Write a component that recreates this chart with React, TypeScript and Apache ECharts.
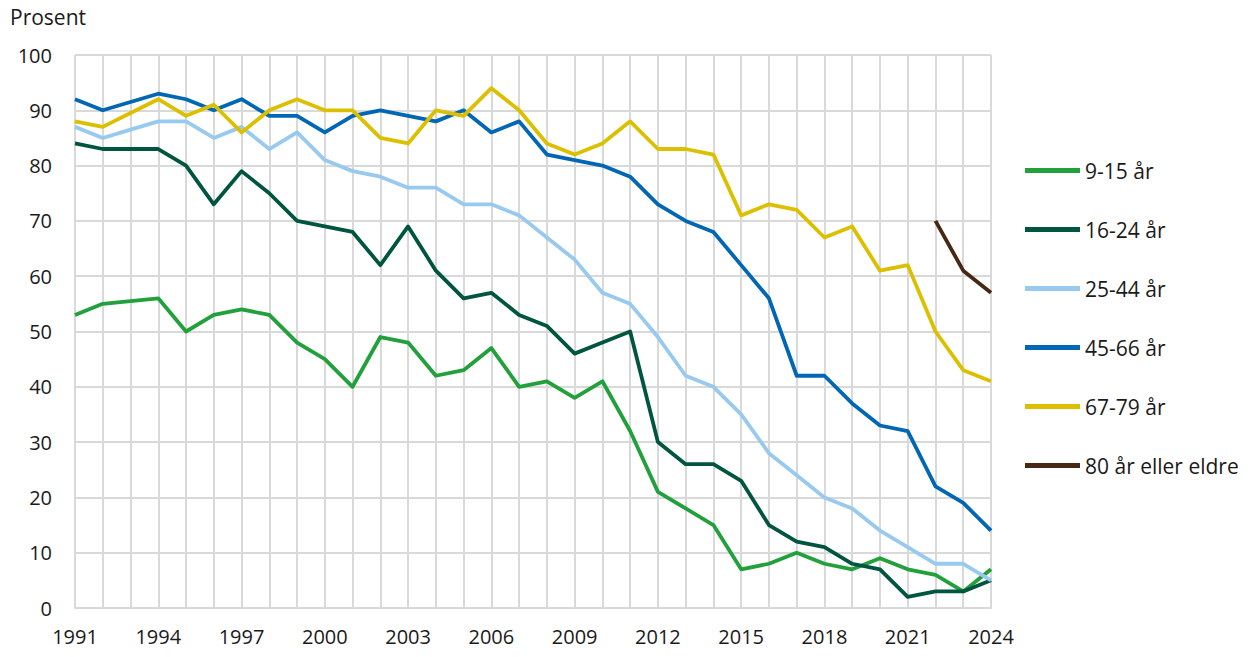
import React, { useEffect, useRef } from "react";
import * as echarts from "echarts";

const years = [
  "1991","1992","1993","1994","1995","1996","1997","1998","1999","2000",
  "2001","2002","2003","2004","2005","2006","2007","2008","2009","2010",
  "2011","2012","2013","2014","2015","2016","2017","2018","2019","2020",
  "2021","2022","2023","2024",
];

const age9to15 = [53,55,55.5,56,50,53,54,53,48,45,40,49,48,42,43,47,40,41,38,41,32,21,18,15,7,8,10,8,7,9,7,6,3,7];
const age16to24 = [84,83,83,83,80,73,79,75,70,69,68,62,69,61,56,57,53,51,46,48,50,30,26,26,23,15,12,11,8,7,2,3,3,5];
const age25to44 = [87,85,86.5,88,88,85,87,83,86,81,79,78,76,76,73,73,71,67,63,57,55,49,42,40,35,28,24,20,18,14,11,8,8,5];
const age45to66 = [92,90,91.5,93,92,90,92,89,89,86,89,90,89,88,90,86,88,82,81,80,78,73,70,68,62,56,42,42,37,33,32,22,19,14];
const age67to79 = [88,87,89.5,92,89,91,86,90,92,90,90,85,84,90,89,94,90,84,82,84,88,83,83,82,71,73,72,67,69,61,62,50,43,41];
const age80plus = [null,null,null,null,null,null,null,null,null,null,null,null,null,null,null,null,null,null,null,null,null,null,null,null,null,null,null,null,null,null,null,70,61,57];

const seriesNames = ["9-15 år","16-24 år","25-44 år","45-66 år","67-79 år","80 år eller eldre"];
const seriesColors = ["#22a03c","#005540","#98c9ee","#0067b4","#dcc000","#472814"];
const seriesData = [age9to15, age16to24, age25to44, age45to66, age67to79, age80plus];

const FONT = "'Open Sans', 'Noto Sans', sans-serif";
const TEXT = "#1a1a1a";
const GRID = "#d9d9d9";

export default function App() {
  const ref = useRef<HTMLDivElement>(null);
  useEffect(() => {
    document.body.style.margin = "0";
    if (!ref.current) return;
    const chart = echarts.init(ref.current, null, { renderer: "svg" });
    chart.setOption({
      animation: false,
      backgroundColor: "#ffffff",
      textStyle: { fontFamily: FONT },
      grid: { left: 75, right: 259, top: 55, bottom: 49, containLabel: false },
      graphic: [
        {
          type: "text",
          left: 10,
          top: 6,
          style: { text: "Prosent", fill: TEXT, font: `21px ${FONT}` },
        },
      ],
      legend: {
        orient: "vertical",
        left: 1020,
        top: 155,
        itemWidth: 55,
        itemHeight: 5,
        itemGap: 38,
        icon: "rect",
        textStyle: { fontSize: 21, color: TEXT, fontFamily: FONT },
        data: seriesNames,
      },
      xAxis: {
        type: "category",
        boundaryGap: false,
        data: years,
        axisLine: { show: true, lineStyle: { color: GRID, width: 2 } },
        axisTick: { show: false },
        axisLabel: {
          interval: 2,
          fontSize: 20,
          color: TEXT,
          fontFamily: FONT,
          margin: 18,
        },
        splitLine: { show: true, interval: 0, lineStyle: { color: GRID, width: 2 } },
      },
      yAxis: {
        type: "value",
        min: 0,
        max: 100,
        interval: 10,
        axisLine: { show: false },
        axisTick: { show: false },
        axisLabel: { fontSize: 20, color: TEXT, fontFamily: FONT, margin: 23 },
        splitLine: { show: true, lineStyle: { color: GRID, width: 2 } },
      },
      series: seriesNames.map((name, i) => ({
        name,
        type: "line",
        data: seriesData[i],
        symbol: "none",
        connectNulls: false,
        color: seriesColors[i],
        lineStyle: { width: 3.8, color: seriesColors[i], join: "round" },
        itemStyle: { color: seriesColors[i] },
      })),
    });
    return () => chart.dispose();
  }, []);
  return <div ref={ref} style={{ width: 1250, height: 657 }} />;
}
